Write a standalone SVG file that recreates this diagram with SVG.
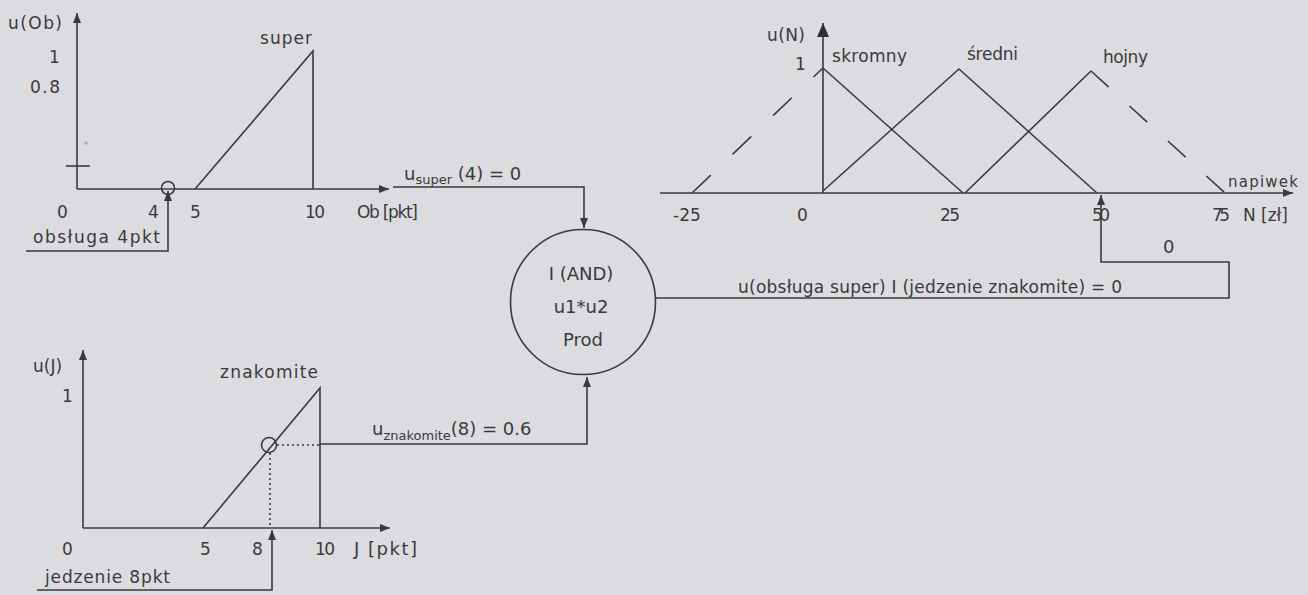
<svg xmlns="http://www.w3.org/2000/svg" width="1308" height="595" viewBox="0 0 1308 595">
  <style>
    .ln { fill: none; stroke: #3a3a3c; stroke-width: 1.6; }
    .dot { fill: none; stroke: #3a3a3c; stroke-width: 1.6; stroke-dasharray: 2 3; }
    .t { font-family: "DejaVu Sans", "Liberation Sans", sans-serif; font-size: 17px; fill: #3a3a3c; }
    .big { font-size: 18px; }
    .small { font-size: 15px; }
    .sub { font-size: 13px; }
    .c { text-anchor: middle; }
  </style>
  <defs>
    <marker id="arr" viewBox="0 0 10 8" refX="10" refY="4" markerWidth="10" markerHeight="8" orient="auto" markerUnits="userSpaceOnUse">
      <path d="M0,0 L10,4 L0,8 z" fill="#3a3a3c"/>
    </marker>
    <marker id="arrBig" viewBox="0 0 14 12" refX="14" refY="6" markerWidth="14" markerHeight="12" orient="auto" markerUnits="userSpaceOnUse">
      <path d="M0,0 L14,6 L0,12 z" fill="#2e2e30"/>
    </marker>
  </defs>

  <rect width="1308" height="595" fill="#dcdce0"/>

  <!-- membership function: service quality -->
  <g id="chart-obsluga">
    <line class="ln" x1="77" y1="189" x2="77" y2="13" marker-end="url(#arr)"/>
    <line class="ln" x1="77" y1="189" x2="389" y2="189" marker-end="url(#arr)"/>
    <line class="ln" x1="66" y1="166" x2="90" y2="166"/>
    <circle cx="86" cy="143" r="1.8" fill="#b8a8ae"/>
    <polyline class="ln" points="195,189 313,51 313,189"/>
    <circle class="ln" cx="168" cy="188" r="6.5"/>
    <polyline class="ln" points="26,251 168,251 168,191" marker-end="url(#arr)"/>
    <text class="t" x="8" y="29" textLength="54">u(Ob)</text>
    <text class="t" x="49" y="63">1</text>
    <text class="t" x="30" y="93" textLength="30">0.8</text>
    <text class="t" x="260" y="44" textLength="52">super</text>
    <text class="t" x="57" y="218">0</text>
    <text class="t" x="148" y="218">4</text>
    <text class="t" x="190" y="218">5</text>
    <text class="t" x="305" y="218" textLength="20">10</text>
    <text class="t" x="357" y="218" textLength="61">Ob [pkt]</text>
    <text class="t" x="33" y="243" textLength="127">obsługa 4pkt</text>
  </g>

  <!-- membership function: food quality -->
  <g id="chart-jedzenie">
    <line class="ln" x1="83" y1="528" x2="83" y2="350" marker-end="url(#arr)"/>
    <line class="ln" x1="83" y1="528" x2="390" y2="528" marker-end="url(#arr)"/>
    <polyline class="ln" points="203,528 320,388 320,528"/>
    <circle class="ln" cx="269" cy="445" r="7.5"/>
    <line class="dot" x1="277" y1="445" x2="320" y2="445"/>
    <line class="dot" x1="270" y1="453" x2="270" y2="528"/>
    <polyline class="ln" points="37,590 272,590 272,530" marker-end="url(#arr)"/>
    <text class="t" x="33" y="372">u(J)</text>
    <text class="t" x="62" y="402">1</text>
    <text class="t" x="220" y="378" textLength="98">znakomite</text>
    <text class="t" x="62" y="555">0</text>
    <text class="t" x="200" y="555">5</text>
    <text class="t" x="252" y="555">8</text>
    <text class="t" x="315" y="555" textLength="20">10</text>
    <text class="t big" x="354" y="555" textLength="63">J [pkt]</text>
    <text class="t" x="45" y="583" textLength="125">jedzenie 8pkt</text>
  </g>

  <!-- product (AND) operator -->
  <g id="node-and">
    <circle class="ln" cx="583" cy="302" r="72.5"/>
    <text class="t big c" x="581" y="280">I (AND)</text>
    <text class="t big c" x="581" y="313">u1*u2</text>
    <text class="t big c" x="583" y="346">Prod</text>
  </g>

  <!-- membership functions: tip -->
  <g id="chart-napiwek">
    <line x1="823" y1="193" x2="823" y2="23" stroke="#3a3a3c" stroke-width="1.6" marker-end="url(#arrBig)"/>
    <line class="ln" x1="660" y1="193" x2="1293" y2="193" marker-end="url(#arr)"/>
    <polyline class="ln" points="823,68 963,193"/>
    <line class="ln" x1="692" y1="193" x2="823" y2="68" stroke-dasharray="26 30"/>
    <polyline class="ln" points="823,191 959,69 1097,193"/>
    <polyline class="ln" points="965,193 1091,71"/>
    <line class="ln" x1="1091" y1="71" x2="1225" y2="193" stroke-dasharray="24 28"/>
    <text class="t" x="767" y="41" textLength="38">u(N)</text>
    <text class="t" x="795" y="70">1</text>
    <text class="t" x="832" y="62" textLength="75">skromny</text>
    <text class="t" x="967" y="60" textLength="51">średni</text>
    <text class="t" x="1103" y="63" textLength="45">hojny</text>
    <text class="t small" x="1228" y="187" textLength="70">napiwek</text>
    <text class="t" x="673" y="221">-25</text>
    <text class="t" x="797" y="221">0</text>
    <text class="t" x="940" y="221" textLength="20">25</text>
    <text class="t" x="1092" y="221" textLength="18">50</text>
    <text class="t" x="1212" y="221" textLength="18">75</text>
    <text class="t" x="1243" y="221" textLength="45">N [zł]</text>
  </g>

  <!-- connectors -->
  <g id="connectors">
    <polyline class="ln" points="393,187 584,187 584,228" marker-end="url(#arr)"/>
    <polyline class="ln" points="320,444 587,444 587,377" marker-end="url(#arr)"/>
    <polyline class="ln" points="656,298 1229,298 1229,262 1101,262 1101,195" marker-end="url(#arr)"/>
    <text class="t big" x="404" y="180">u<tspan class="sub" dy="4">super</tspan><tspan dy="-4"> (4) = 0</tspan></text>
    <text class="t big" x="372" y="435">u<tspan class="sub" dy="5">znakomite</tspan><tspan dy="-5">(8) = 0.6</tspan></text>
    <text class="t big" x="1163" y="253">0</text>
    <text class="t" x="738" y="293" textLength="384">u(obsługa super) I (jedzenie znakomite) = 0</text>
  </g>
</svg>
